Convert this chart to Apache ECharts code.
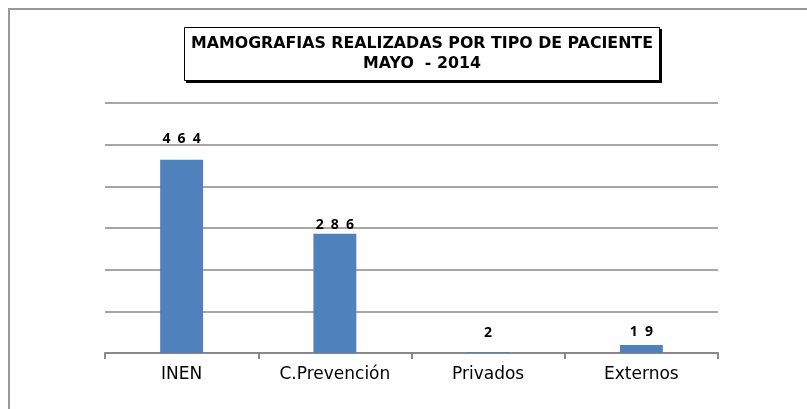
<!DOCTYPE html>
<html>
<head>
<meta charset="utf-8">
<script src="https://cdn.jsdelivr.net/npm/echarts@6/dist/echarts.min.js"></script>
<style>
  html, body { margin: 0; padding: 0; background: #fff; }
  #chart { width: 807px; height: 409px; }
</style>
</head>
<body>
<div id="chart"></div>
<script>
// Datos del gráfico
const categorias = ['INEN', 'C.Prevención', 'Privados', 'Externos'];
const mamografias = [464, 286, 2, 19];
const tituloLineas = ['MAMOGRAFIAS REALIZADAS POR TIPO DE PACIENTE', 'MAYO  - 2014'];

// Distancia de cada etiqueta sobre su barra (como en el original)
const distanciaEtiqueta = [14, 2, 12, 6];

const chart = echarts.init(document.getElementById('chart'));

chart.setOption({
    animation: false,
    graphic: [
        {
            // marco exterior
            type: 'rect',
            shape: { x: 9, y: 9, width: 900, height: 500 },
            style: { fill: 'none', stroke: '#999', lineWidth: 2 },
            silent: true
        },
        {
            // sombra de la caja del título
            type: 'rect',
            shape: { x: 186, y: 29, width: 476, height: 54 },
            style: { fill: '#000' },
            z: 9
        },
        {
            // caja del título
            type: 'rect',
            shape: { x: 184.5, y: 27.5, width: 475, height: 53 },
            style: { fill: '#fff', stroke: '#000', lineWidth: 1 },
            z: 10
        },
        {
            type: 'text',
            x: 422, y: 54,
            style: {
                text: tituloLineas.join('\n'),
                fontFamily: 'DejaVu Sans', fontWeight: 'bold', fontSize: 15.8,
                lineHeight: 20, fill: '#000',
                align: 'center', verticalAlign: 'middle'
            },
            z: 11
        }
    ],
    grid: { left: 105, right: 89, top: 103, bottom: 56 },
    xAxis: {
        type: 'category',
        data: categorias,
        axisLine: { lineStyle: { color: '#888', width: 2 } },
        axisTick: { show: true, length: 6, lineStyle: { color: '#888', width: 2 } },
        axisLabel: {
            color: '#000', fontFamily: 'DejaVu Sans', fontSize: 17, margin: 13
        }
    },
    yAxis: {
        type: 'value',
        min: 0, max: 600, interval: 100,
        axisLabel: { show: false },
        axisLine: { show: false },
        axisTick: { show: false },
        splitLine: { lineStyle: { color: '#888', width: 1.5 } }
    },
    series: [{
        type: 'bar',
        barWidth: '28%',
        itemStyle: { color: '#4F81BD' },
        data: mamografias.map((v, i) => ({
            value: v,
            label: { distance: distanciaEtiqueta[i] }
        })),
        label: {
            show: true,
            position: 'top',
            color: '#000',
            fontFamily: 'Open Sans',
            fontWeight: 'bold',
            fontSize: 14,
            formatter: p => String(p.value).split('').join('\u2002')
        }
    }]
});
</script>
</body>
</html>
